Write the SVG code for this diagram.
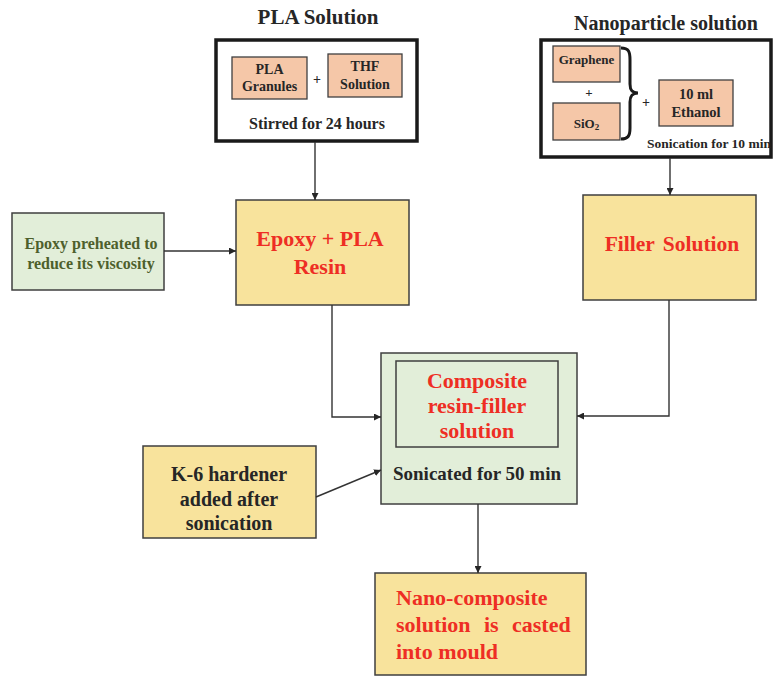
<svg xmlns="http://www.w3.org/2000/svg" width="774" height="677" viewBox="0 0 774 677">
<style>
text{font-family:"Liberation Serif","Times New Roman",serif;font-weight:bold;}
.blk{fill:#262626;}
.red{fill:#ee2e24;}
.grn{fill:#4e5f2c;}
.yel{fill:#f8e39c;stroke:#3f3f3f;stroke-width:1.5;}
.lg{fill:#e2eed9;stroke:#3f3f3f;stroke-width:1.5;}
.sal{fill:#f5c7a8;stroke:#3f3f3f;stroke-width:1.3;}
.outer{fill:#fff;stroke:#1a1a1a;stroke-width:3.5;}
.conn{fill:none;stroke:#333;stroke-width:1.4;}
</style>
<defs>
<marker id="ah" viewBox="0 0 10 10" refX="10" refY="5" markerWidth="7" markerHeight="7" orient="auto" markerUnits="userSpaceOnUse">
<path d="M0,0 L10,5 L0,10 z" fill="#262626"/>
</marker>
</defs>
<rect width="774" height="677" fill="#fff"/>

<g id="pla-solution">
<text x="318" y="24" font-size="21" text-anchor="middle" class="blk">PLA Solution</text>
<rect x="216" y="40" width="201" height="101" class="outer"/>
<rect x="232" y="57" width="75" height="42" class="sal"/>
<text x="269.5" y="74" font-size="14" text-anchor="middle" class="blk">PLA</text>
<text x="269.5" y="91" font-size="14" text-anchor="middle" class="blk">Granules</text>
<text x="317" y="84" font-size="14" text-anchor="middle" class="blk" font-weight="normal">+</text>
<rect x="328" y="54" width="74" height="43" class="sal"/>
<text x="365" y="71" font-size="14" text-anchor="middle" class="blk">THF</text>
<text x="365" y="89" font-size="14" text-anchor="middle" class="blk">Solution</text>
<text x="317" y="129" font-size="16" text-anchor="middle" class="blk">Stirred for 24 hours</text>
</g>

<g id="nanoparticle-solution">
<text x="666" y="30" font-size="20" text-anchor="middle" class="blk">Nanoparticle solution</text>
<rect x="541" y="40" width="230" height="117" class="outer"/>
<rect x="553" y="46" width="67" height="36" class="sal"/>
<text x="586.5" y="64" font-size="13" text-anchor="middle" class="blk">Graphene</text>
<text x="589" y="97" font-size="13" text-anchor="middle" class="blk" font-weight="normal">+</text>
<rect x="553" y="103" width="67" height="37" class="sal"/>
<text x="586.5" y="128" font-size="13" text-anchor="middle" class="blk">SiO<tspan font-size="9" dy="2">2</tspan></text>
<path d="M621,48 C629,48 630,52 630,60 L630,84 C630,90 632,93 638,93 C632,93 630,96 630,102 L630,128 C630,136 628,139 621,139" fill="none" stroke="#1a1a1a" stroke-width="3"/>
<text x="646" y="107" font-size="14" text-anchor="middle" class="blk" font-weight="normal">+</text>
<rect x="659" y="80" width="74" height="46" class="sal"/>
<text x="696" y="99" font-size="14.5" text-anchor="middle" class="blk">10 ml</text>
<text x="696" y="117" font-size="14.5" text-anchor="middle" class="blk">Ethanol</text>
<text x="709" y="148" font-size="13.5" text-anchor="middle" class="blk">Sonication for 10 min</text>
</g>

<g id="epoxy-preheated">
<rect x="12" y="213" width="152" height="77" class="lg"/>
<text x="91" y="249" font-size="16" text-anchor="middle" class="grn">Epoxy preheated to</text>
<text x="91" y="269" font-size="16" text-anchor="middle" class="grn">reduce its viscosity</text>
</g>

<g id="epoxy-pla-resin">
<rect x="236" y="200" width="173" height="105" class="yel"/>
<text x="320" y="246" font-size="22" text-anchor="middle" class="red">Epoxy + PLA</text>
<text x="320" y="274" font-size="22" text-anchor="middle" class="red">Resin</text>
</g>

<g id="filler-solution">
<rect x="583" y="195" width="173" height="105" class="yel"/>
<text x="672" y="251" font-size="21.5" text-anchor="middle" class="red" word-spacing="3">Filler Solution</text>
</g>

<g id="composite">
<rect x="381" y="353" width="196" height="151" class="lg"/>
<rect x="396" y="361" width="162" height="86" class="lg"/>
<text x="477" y="388" font-size="22" text-anchor="middle" class="red">Composite</text>
<text x="477" y="413" font-size="22" text-anchor="middle" class="red">resin-filler</text>
<text x="477" y="438" font-size="22" text-anchor="middle" class="red">solution</text>
<text x="477" y="480" font-size="19" text-anchor="middle" class="blk">Sonicated for 50 min</text>
</g>

<g id="k6-hardener">
<rect x="143" y="446" width="173" height="92" class="yel"/>
<text x="229" y="481" font-size="20" text-anchor="middle" class="blk">K-6 hardener</text>
<text x="229" y="506" font-size="20" text-anchor="middle" class="blk">added after</text>
<text x="229" y="530" font-size="20" text-anchor="middle" class="blk">sonication</text>
</g>

<g id="nano-composite">
<rect x="375" y="573" width="211" height="102" class="yel"/>
<text x="396" y="605" font-size="22" class="red">Nano-composite</text>
<text y="632" font-size="22" class="red"><tspan x="396">solution</tspan><tspan x="484">is</tspan><tspan x="512">casted</tspan></text>
<text x="396" y="659" font-size="22" class="red">into mould</text>
</g>

<g id="connectors">
<path d="M315,142 L315,200" class="conn" marker-end="url(#ah)"/>
<path d="M670,158 L670,195" class="conn" marker-end="url(#ah)"/>
<path d="M164,251 L236,251" class="conn" marker-end="url(#ah)"/>
<path d="M332,305 L332,417 L381,417" class="conn" marker-end="url(#ah)"/>
<path d="M669,300 L669,416 L577,416" class="conn" marker-end="url(#ah)"/>
<path d="M316,497 L381,470" class="conn" marker-end="url(#ah)"/>
<path d="M478,504 L478,573" class="conn" marker-end="url(#ah)"/>
</g>
</svg>
